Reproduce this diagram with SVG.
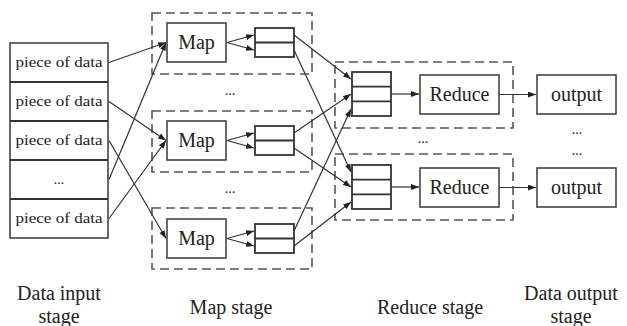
<svg xmlns="http://www.w3.org/2000/svg" width="627" height="326" viewBox="0 0 627 326">
<style>
.box{fill:#fff;stroke:#444;stroke-width:1.6}
.buf{fill:#fff;stroke:#333;stroke-width:1.8}
.dash{fill:none;stroke:#555;stroke-width:1.6;stroke-dasharray:9 5}
.t{font-family:"Liberation Serif","Times New Roman",serif;fill:#222;text-anchor:middle}
.row{font-size:15px}
.lbl{font-size:20px}
.dots{font-size:14px}
.c{stroke:#333;stroke-width:1.2;fill:none;marker-end:url(#ah)}
</style>
<defs>
<marker id="ah" markerWidth="8" markerHeight="6" refX="8" refY="3" orient="auto" markerUnits="userSpaceOnUse">
<path d="M0,0 L8,3 L0,6 z" fill="#222"/>
</marker>
</defs>
<rect width="627" height="326" fill="#fff"/>

<!-- stage containers -->
<g id="stages">
<rect class="dash" x="152" y="13" width="160" height="61"/>
<rect class="dash" x="152" y="111" width="160" height="61"/>
<rect class="dash" x="152" y="208" width="160" height="61"/>
<rect class="dash" x="335" y="62" width="178" height="66"/>
<rect class="dash" x="335" y="154" width="178" height="66"/>
</g>

<g id="input">
<rect class="box" x="10" y="43" width="98" height="195"/>
<line x1="10" y1="82" x2="108" y2="82" stroke="#333" stroke-width="1.8"/>
<line x1="10" y1="121" x2="108" y2="121" stroke="#333" stroke-width="1.8"/>
<line x1="10" y1="160" x2="108" y2="160" stroke="#333" stroke-width="1.8"/>
<line x1="10" y1="199" x2="108" y2="199" stroke="#333" stroke-width="1.8"/>
<text class="t row" x="59" y="67" textLength="87" lengthAdjust="spacingAndGlyphs">piece of data</text>
<text class="t row" x="59" y="106" textLength="87" lengthAdjust="spacingAndGlyphs">piece of data</text>
<text class="t row" x="59" y="145" textLength="87" lengthAdjust="spacingAndGlyphs">piece of data</text>
<text class="t dots" x="59" y="184">...</text>
<text class="t row" x="59" y="223" textLength="87" lengthAdjust="spacingAndGlyphs">piece of data</text>
</g>

<g id="map1">
<rect class="box" x="167" y="23" width="59" height="39"/>
<text class="t lbl" x="196.5" y="49">Map</text>
<rect class="buf" x="255" y="28" width="39" height="29"/>
<line x1="255" y1="42.5" x2="294" y2="42.5" stroke="#333" stroke-width="1.8"/>
</g>
<g id="map2">
<rect class="box" x="167" y="121" width="59" height="39"/>
<text class="t lbl" x="196.5" y="147">Map</text>
<rect class="buf" x="255" y="126" width="39" height="29"/>
<line x1="255" y1="140.5" x2="294" y2="140.5" stroke="#333" stroke-width="1.8"/>
</g>
<g id="map3">
<rect class="box" x="167" y="219" width="59" height="39"/>
<text class="t lbl" x="196.5" y="245">Map</text>
<rect class="buf" x="255" y="224" width="39" height="29"/>
<line x1="255" y1="238.5" x2="294" y2="238.5" stroke="#333" stroke-width="1.8"/>
</g>

<g id="reduce1">
<rect class="buf" x="352" y="72" width="39" height="44"/>
<line x1="352" y1="86.7" x2="391" y2="86.7" stroke="#333" stroke-width="1.8"/>
<line x1="352" y1="101.3" x2="391" y2="101.3" stroke="#333" stroke-width="1.8"/>
<rect class="box" x="420" y="75" width="79" height="39"/>
<text class="t lbl" x="459.5" y="101">Reduce</text>
</g>
<g id="reduce2">
<rect class="buf" x="352" y="165" width="39" height="44"/>
<line x1="352" y1="179.7" x2="391" y2="179.7" stroke="#333" stroke-width="1.8"/>
<line x1="352" y1="194.3" x2="391" y2="194.3" stroke="#333" stroke-width="1.8"/>
<rect class="box" x="420" y="168" width="79" height="39"/>
<text class="t lbl" x="459.5" y="194">Reduce</text>
</g>

<g id="output1">
<rect class="box" x="537" y="75" width="79" height="39"/>
<text class="t lbl" x="576.5" y="101">output</text>
</g>
<g id="output2">
<rect class="box" x="537" y="168" width="79" height="39"/>
<text class="t lbl" x="576.5" y="194">output</text>
</g>

<g id="ellipses">
<text class="t dots" x="230" y="95">...</text>
<text class="t dots" x="230" y="193">...</text>
<text class="t dots" x="423" y="143">...</text>
<text class="t dots" x="577" y="134">...</text>
<text class="t dots" x="577" y="155">...</text>
</g>

<g id="connectors">
<line class="c" x1="109" y1="62.5" x2="166" y2="42.5"/>
<line class="c" x1="109" y1="101.5" x2="166" y2="140.5"/>
<line class="c" x1="109" y1="140.5" x2="166" y2="238.5"/>
<line class="c" x1="109" y1="179.5" x2="166" y2="42.5"/>
<line class="c" x1="109" y1="218.5" x2="166" y2="140.5"/>

<line class="c" x1="227" y1="42.5" x2="254" y2="35"/>
<line class="c" x1="227" y1="42.5" x2="254" y2="50"/>
<line class="c" x1="227" y1="140.5" x2="254" y2="133"/>
<line class="c" x1="227" y1="140.5" x2="254" y2="148"/>
<line class="c" x1="227" y1="238.5" x2="254" y2="231"/>
<line class="c" x1="227" y1="238.5" x2="254" y2="246"/>

<line class="c" x1="294" y1="35" x2="351" y2="79"/>
<line class="c" x1="294" y1="50" x2="351" y2="172"/>
<line class="c" x1="294" y1="133" x2="351" y2="94"/>
<line class="c" x1="294" y1="148" x2="351" y2="187"/>
<line class="c" x1="294" y1="231" x2="351" y2="109"/>
<line class="c" x1="294" y1="246" x2="351" y2="202"/>

<line class="c" x1="391" y1="94" x2="419" y2="94"/>
<line class="c" x1="391" y1="187" x2="419" y2="187"/>
<line class="c" x1="499" y1="94.5" x2="536" y2="94.5"/>
<line class="c" x1="499" y1="187.5" x2="536" y2="187.5"/>
</g>

<g id="labels">
<text class="t lbl" x="59" y="300">Data input</text>
<text class="t lbl" x="59" y="323">stage</text>
<text class="t lbl" x="231" y="314">Map stage</text>
<text class="t lbl" x="430" y="314">Reduce stage</text>
<text class="t lbl" x="571" y="300">Data output</text>
<text class="t lbl" x="571" y="323">stage</text>
</g>
</svg>
